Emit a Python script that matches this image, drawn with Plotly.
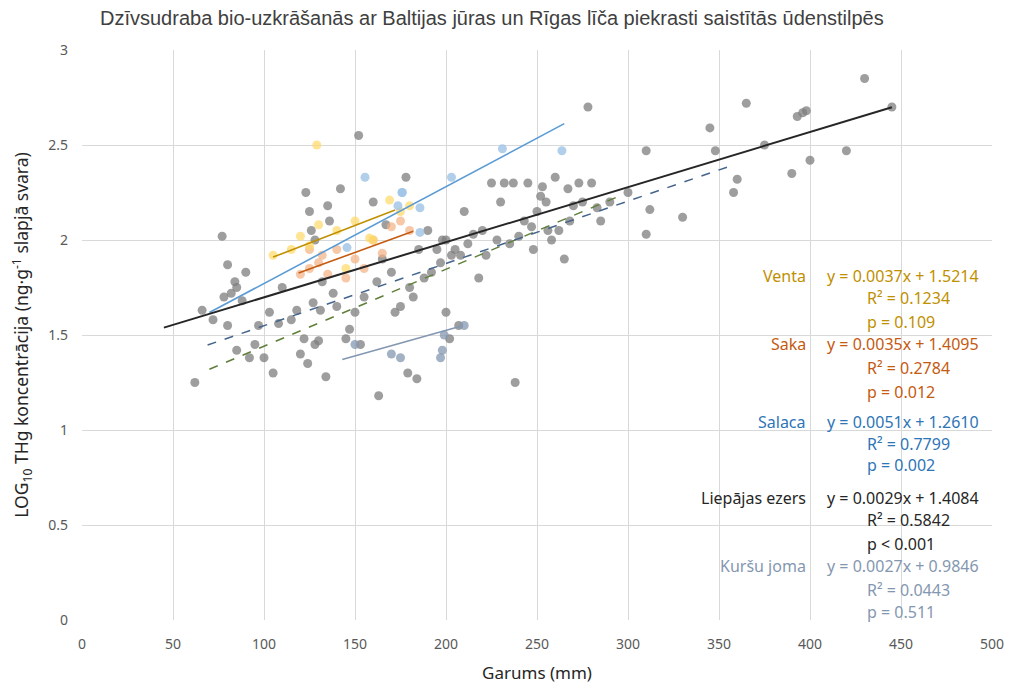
import plotly.graph_objects as go

# ---------------- data ----------------
gray_x = [62, 66, 72, 77, 78, 80, 82, 84, 85, 88, 90, 80, 85, 92, 95, 97, 100, 103, 105, 108,
          110, 115, 118, 120, 122, 124, 126, 127, 128, 130, 131, 132, 134, 135, 136, 123, 125, 128,
          138, 140, 142, 145, 147, 150, 152, 153, 155, 160, 162, 163, 165, 167, 170, 172, 175, 178,
          179, 180, 182, 184, 185, 188, 190, 192, 195, 197, 198, 200, 200, 202, 203, 205, 207, 208,
          210, 212, 215, 218, 220, 222, 225, 228, 230, 232, 235, 237, 238, 240, 243, 245, 247, 248,
          250, 252, 253, 255, 256, 258, 260, 262, 265, 267, 268, 270, 273, 275, 278, 280, 283, 285,
          290, 300, 310, 310, 312, 330, 345, 348, 358, 360, 365, 375, 390, 393, 396, 398, 400, 420,
          430, 445]
gray_y = [1.25, 1.63, 1.58, 2.02, 1.70, 1.87, 1.72, 1.78, 1.75, 1.68, 1.83, 1.55, 1.42, 1.38, 1.45,
          1.55, 1.38, 1.62, 1.30, 1.56, 1.75, 1.58, 1.63, 1.40, 1.48, 1.35, 2.05, 1.67, 1.45, 1.47,
          1.63, 1.78, 1.28, 2.18, 2.10, 2.25, 2.15, 2.00, 1.72, 1.65, 2.27, 1.48, 1.53, 1.62, 2.55,
          1.45, 1.70, 2.20, 1.78, 1.18, 1.90, 2.08, 1.83, 1.62, 1.65, 2.33, 1.30, 1.75, 1.70, 1.27,
          1.95, 1.80, 2.05, 1.83, 1.95, 1.88, 2.00, 1.62, 2.00, 1.48, 1.92, 1.95, 1.55, 1.92, 2.15,
          1.98, 2.03, 1.80, 2.05, 1.92, 2.30, 2.00, 2.20, 2.30, 1.98, 2.30, 1.25, 2.02, 2.10, 2.30,
          2.07, 1.95, 2.15, 2.23, 2.28, 2.20, 2.05, 2.00, 2.33, 2.05, 1.90, 2.27, 2.10, 2.18, 2.30,
          2.20, 2.70, 2.30, 2.17, 2.10, 2.20, 2.25, 2.47, 2.03, 2.16, 2.12, 2.59, 2.47, 2.25, 2.32,
          2.72, 2.50, 2.35, 2.65, 2.67, 2.68, 2.42, 2.47, 2.85, 2.70]

kursu_x = [150, 170, 175, 197, 198, 199, 210]
kursu_y = [1.45, 1.40, 1.38, 1.38, 1.42, 1.50, 1.55]

salaca_x = [145.6, 155.5, 173.6, 175.8, 176, 185.7, 185.7, 203, 231, 263.7]
salaca_y = [1.96, 2.33, 2.18, 2.25, 2.25, 2.17, 2.04, 2.33, 2.48, 2.47]

venta_x = [105, 115, 120, 125, 129, 130, 140, 145, 150, 158, 160, 169, 175, 180]
venta_y = [1.92, 1.95, 2.02, 1.97, 2.50, 2.08, 2.05, 1.85, 2.10, 2.01, 2.00, 2.21, 2.15, 2.18]

saka_x = [120, 125, 125, 130, 132, 135, 140, 145, 150, 155, 160, 165, 170, 175, 180]
saka_y = [1.82, 1.85, 1.95, 1.88, 1.92, 1.82, 1.95, 1.80, 1.90, 1.85, 2.00, 1.93, 2.07, 2.10, 2.05]

# trendlines: name, slope, intercept, x range
trend_names = ["Venta", "Saka", "Salaca", "Liepājas ezers", "Kuršu joma"]
trend_slope = [0.0037, 0.0035, 0.0051, 0.0029, 0.0027]
trend_icpt = [1.5214, 1.4095, 1.2610, 1.4084, 0.9846]
trend_xmin = [105, 119, 70, 45, 143]
trend_xmax = [172, 182, 265, 445, 208]
trend_r2 = ["0.1234", "0.2784", "0.7799", "0.5842", "0.0443"]
trend_p = ["p = 0.109", "p = 0.012", "p = 0.002", "p < 0.001", "p = 0.511"]

# extra dashed trendlines
dash_blue_x = [69, 358]
dash_blue_y = [1.447, 2.395]
dash_green_x = [70, 295]
dash_green_y = [1.32, 2.23]

# ---------------- style ----------------
line_colors = ["#c09000", "#c55a11", "#5b9bd5", "#262626", "#8497b0"]
text_colors = ["#bf9000", "#c55a11", "#2e75b6", "#262626", "#8497b0"]
FONT = "Noto Sans"
OFF = 8  # default page body margin

fig = go.Figure()

def pts(x, y, color):
    fig.add_trace(go.Scatter(x=x, y=y, mode="markers",
                             marker=dict(size=9, color=color, line=dict(width=0)),
                             showlegend=False, hoverinfo="x+y"))

pts(gray_x, gray_y, "rgba(125,125,125,0.75)")
pts(kursu_x, kursu_y, "rgba(132,151,176,0.75)")
pts(saka_x, saka_y, "rgba(244,177,131,0.7)")
pts(venta_x, venta_y, "rgba(255,217,102,0.7)")
pts(salaca_x, salaca_y, "rgba(157,195,230,0.8)")

fig.add_trace(go.Scatter(x=dash_green_x, y=dash_green_y, mode="lines",
                         line=dict(color="#5f7f3a", width=1.5, dash="dash"), showlegend=False))
fig.add_trace(go.Scatter(x=dash_blue_x, y=dash_blue_y, mode="lines",
                         line=dict(color="#44648c", width=1.5, dash="dash"), showlegend=False))

for i, n in enumerate(trend_names):
    xs = [trend_xmin[i], trend_xmax[i]]
    ys = [trend_slope[i] * v + trend_icpt[i] for v in xs]
    fig.add_trace(go.Scatter(x=xs, y=ys, mode="lines",
                             line=dict(color=line_colors[i], width=2 if i == 3 else 1.6),
                             showlegend=False, name=n))

# annotations block (window pixel rows converted to data units)
row_y = [[276, 298, 322], [344, 368, 392], [422, 444, 465], [498, 520, 544], [566, 590, 612]]
def py(p):
    return (620 - p) / 190.0
def px(p):
    return (p - 82) / 1.82

AF = 16
for i, n in enumerate(trend_names):
    c = text_colors[i]
    eq = f"y = {trend_slope[i]:.4f}x + {trend_icpt[i]:.4f}"
    fig.add_annotation(x=px(808), y=py(row_y[i][0]), text=n, showarrow=False,
                       xanchor="right", yanchor="middle", font=dict(color=c, size=AF, family=FONT))
    fig.add_annotation(x=px(825), y=py(row_y[i][0]), text=eq, showarrow=False,
                       xanchor="left", yanchor="middle", font=dict(color=c, size=AF, family=FONT))
    fig.add_annotation(x=px(865), y=py(row_y[i][1]), text=f"R² = {trend_r2[i]}", showarrow=False,
                       xanchor="left", yanchor="middle", font=dict(color=c, size=AF, family=FONT))
    fig.add_annotation(x=px(865), y=py(row_y[i][2]), text=trend_p[i], showarrow=False,
                       xanchor="left", yanchor="middle", font=dict(color=c, size=AF, family=FONT))

W, H = 1012 - OFF, 689 - OFF
fig.update_layout(
    width=W, height=H,
    margin=dict(l=82 - OFF, r=W - (992 - OFF), t=50 - OFF, b=H - (620 - OFF)),
    paper_bgcolor="white", plot_bgcolor="white",
    title=dict(text="Dzīvsudraba bio-uzkrāšanās ar Baltijas jūras un Rīgas līča piekrasti saistītās ūdenstilpēs",
               x=(100 - OFF) / W, xanchor="left", y=1 - (18 - OFF) / H, yanchor="middle",
               font=dict(family="Liberation Sans Narrow, Liberation Sans", size=20, color="#404040")),
    xaxis=dict(range=[0, 500], dtick=50, tick0=0, showgrid=True, gridcolor="#d9d9d9", gridwidth=1,
               zeroline=False, showline=False, ticks="", automargin=False, ticklabelstandoff=14,
               tickfont=dict(family=FONT, size=14, color="#595959"),
               title=dict(text="Garums (mm)", font=dict(family=FONT, size=17, color="#262626"), standoff=15)),
    yaxis=dict(range=[0, 3], dtick=0.5, tick0=0, showgrid=True, gridcolor="#d9d9d9", gridwidth=1,
               zeroline=False, showline=False, ticks="", ticklabelstandoff=13, automargin=False,
               tickfont=dict(family=FONT, size=14, color="#595959"),
               title=dict(text="LOG<sub>10</sub> THg koncentrācija (ng·g<sup>-1</sup> slapjā svara)",
                          font=dict(family=FONT, size=17.5, color="#262626"), standoff=18)),
)

fig.write_html("out.html")
